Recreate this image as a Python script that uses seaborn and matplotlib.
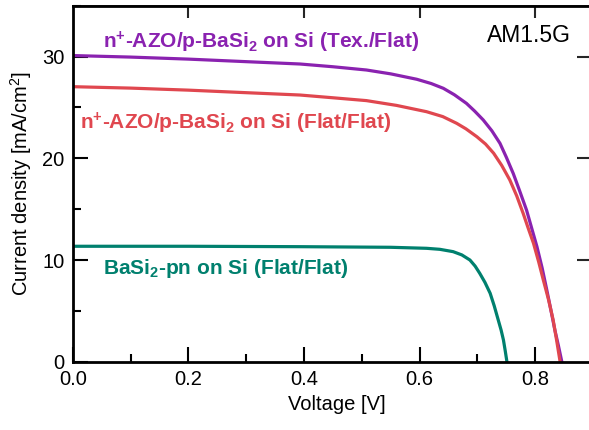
import matplotlib
matplotlib.use("Agg")
import matplotlib.pyplot as plt
import seaborn as sns
from matplotlib.ticker import MultipleLocator, FormatStrFormatter

# ---- data ----
v_tex = [0.0, 0.1, 0.2, 0.3, 0.393, 0.45, 0.508, 0.55, 0.595, 0.62, 0.641, 0.66, 0.681,
         0.695, 0.710, 0.725, 0.739, 0.75, 0.762, 0.773, 0.785, 0.794, 0.803, 0.812,
         0.820, 0.827, 0.834, 0.84, 0.846]
j_tex = [30.1, 29.95, 29.75, 29.5, 29.27, 29.0, 28.68, 28.3, 27.77, 27.35, 26.88, 26.25,
         25.4, 24.65, 23.77, 22.7, 21.47, 20.1, 18.5, 16.8, 14.9, 13.1, 11.3, 9.2,
         7.05, 5.1, 3.1, 1.6, 0.0]

v_flat = [0.0, 0.1, 0.2, 0.3, 0.393, 0.45, 0.508, 0.56, 0.612, 0.64, 0.664, 0.68, 0.699,
          0.714, 0.728, 0.742, 0.756, 0.768, 0.779, 0.788, 0.797, 0.806, 0.814, 0.823,
          0.831, 0.837, 0.843]
j_flat = [27.04, 26.9, 26.7, 26.45, 26.22, 25.95, 25.67, 25.2, 24.58, 24.1, 23.44, 22.9,
          22.12, 21.4, 20.5, 19.3, 17.87, 16.3, 14.6, 13.1, 11.64, 9.8, 8.03, 6.1,
          4.1, 2.1, 0.0]

v_pn = [0.0, 0.2, 0.393, 0.55, 0.612, 0.635, 0.658, 0.673, 0.687, 0.696, 0.704, 0.713,
        0.722, 0.729, 0.736, 0.741, 0.745, 0.748, 0.751]
j_pn = [11.35, 11.35, 11.31, 11.25, 11.15, 11.05, 10.82, 10.5, 10.0, 9.4, 8.69, 7.8,
        6.73, 5.5, 4.1, 3.1, 2.13, 1.1, 0.0]

labels = ["n$^{\\mathbf{+}}$-AZO/p-BaSi$_{\\mathbf{2}}$ on Si (Tex./Flat)",
          "n$^{\\mathbf{+}}$-AZO/p-BaSi$_{\\mathbf{2}}$ on Si (Flat/Flat)",
          "BaSi$_{\\mathbf{2}}$-pn on Si (Flat/Flat)"]
colors = ["#8A22B0", "#E0474F", "#00806E"]

sns.set_theme(style="ticks")
plt.rcParams["font.family"] = ["Liberation Sans", "DejaVu Sans"]
plt.rcParams["mathtext.fontset"] = "custom"
plt.rcParams["mathtext.rm"] = "Liberation Sans"
plt.rcParams["mathtext.bf"] = "Liberation Sans:bold"
plt.rcParams["mathtext.it"] = "Liberation Sans:italic"

fig = plt.figure(figsize=(5.89, 4.30), dpi=100)
ax = fig.add_axes([0.1236, 0.1588, 0.8975, 0.8279])

for v, j, c in zip([v_tex, v_flat, v_pn], [j_tex, j_flat, j_pn], colors):
    sns.lineplot(x=v, y=j, ax=ax, color=c, linewidth=2.3, sort=False, estimator=None)

ax.set_xlim(0, 0.9145)
ax.set_ylim(0, 35)
ax.xaxis.set_major_locator(MultipleLocator(0.2))
ax.xaxis.set_minor_locator(MultipleLocator(0.1))
ax.yaxis.set_major_locator(MultipleLocator(10))
ax.yaxis.set_minor_locator(MultipleLocator(5))
ax.xaxis.set_major_formatter(FormatStrFormatter("%.1f"))
ax.tick_params(which="both", direction="in", width=1.5, colors="black",
               labelsize=14.5, pad=6)
ax.tick_params(which="major", length=11)
ax.tick_params(which="minor", length=6)
for s in ax.spines.values():
    s.set_linewidth(2)
    s.set_color("black")

secx = ax.secondary_xaxis("top")
secx.set_xticks([0.2, 0.4, 0.6, 0.8])
secx.tick_params(direction="in", length=8.5, width=1.5, labeltop=False)
secy = ax.secondary_yaxis("right")
secy.set_yticks([10, 20, 30])
secy.tick_params(direction="in", length=17, width=1.5, labelright=False)

ax.set_xlabel("Voltage [V]", fontsize=14.5, labelpad=4, color="black")
ax.set_ylabel("Current density [mA/cm$^2$]", fontsize=14.5, labelpad=6, color="black")

ax.text(0.052, 31.4, labels[0], color=colors[0], fontsize=15, fontweight="bold", va="center")
ax.text(0.012, 23.4, labels[1], color=colors[1], fontsize=15, fontweight="bold", va="center")
ax.text(0.052, 9.2, labels[2], color=colors[2], fontsize=15, fontweight="bold", va="center")
ax.text(0.717, 32.1, "AM1.5G", color="black", fontsize=16.5, va="center")

fig.savefig("out.png", dpi=100)
